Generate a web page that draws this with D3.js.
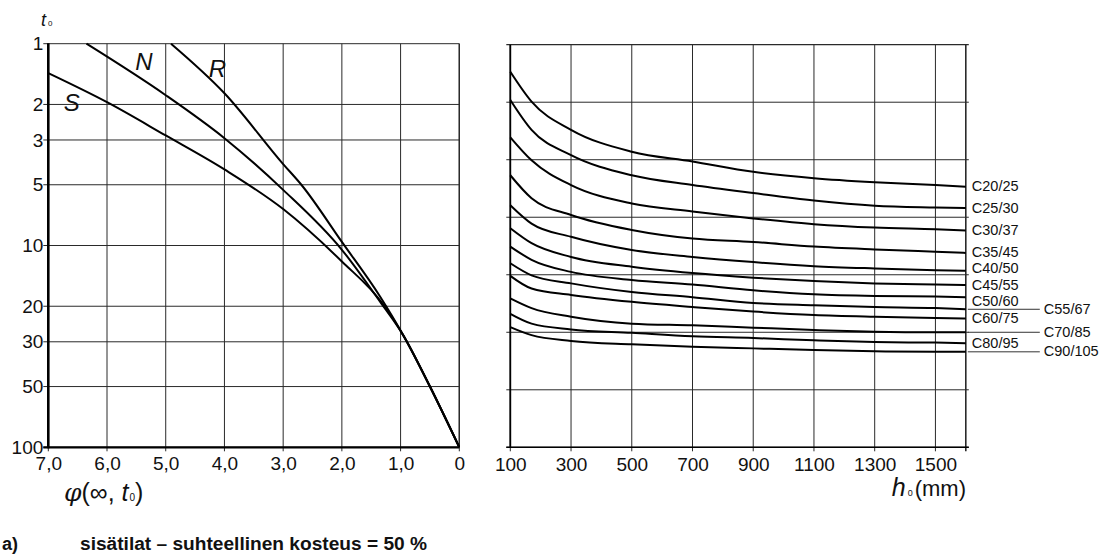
<!DOCTYPE html>
<html>
<head>
<meta charset="utf-8">
<script src="https://cdn.jsdelivr.net/npm/d3@7"></script>
<style>
  html, body { margin: 0; padding: 0; background: #fff; }
  text { font-family: "Liberation Sans", Arial, Helvetica, sans-serif; fill: #111; }
</style>
</head>
<body>
<script>
// ---------------- DATA ----------------
// Left panel: creep coefficient phi(inf,t0) vs age at loading t0 (log scale)
const phiTicks = [7, 6, 5, 4, 3, 2, 1, 0];
const phiTickLabels = ["7,0", "6,0", "5,0", "4,0", "3,0", "2,0", "1,0", "0"];
const t0Ticks = [1, 2, 3, 5, 10, 20, 30, 50, 100];

const cementNames = ["S", "N", "R"];
const phiS = [7.0, 6.0, 5.0, 4.0, 3.0, 2.0, 1.3, 0.95, 0.5, 0];
const t0S  = [1.40, 1.95, 2.85, 4.2, 6.6, 12.0, 19.5, 28, 50, 100];
const phiN = [6.35, 5.0, 4.0, 3.0, 2.0, 1.35, 0.95, 0.5, 0];
const t0N  = [1.0, 1.80, 2.94, 5.3, 10.5, 19.0, 28, 50, 100];
const phiR = [4.91, 4.0, 3.0, 2.69, 2.0, 1.35, 0.95, 0.5, 0];
const t0R  = [1.0, 1.76, 3.95, 5.0, 9.6, 17.9, 28, 50, 100];
// label anchor points (phi, t0) for S, N, R
const cementLabelPhi = [6.6, 5.37, 4.12];
const cementLabelT0  = [1.96, 1.23, 1.32];

// Right panel: notional size h0 (mm) vs nomogram ordinate (unlabelled, 0 = top grid line)
const h0Ticks = [100, 300, 500, 700, 900, 1100, 1300, 1500];
const ordGrid = [0, 1, 2, 3, 4, 5, 6, 7];
const h0 = [100, 170, 300, 500, 700, 900, 1100, 1300, 1500, 1600];
const classNames = ["C20/25", "C25/30", "C30/37", "C35/45", "C40/50", "C45/55",
                    "C50/60", "C55/67", "C60/75", "C70/85", "C80/95", "C90/105"];
const c20 = [0.47, 0.99, 1.48, 1.86, 2.03, 2.21, 2.32, 2.39, 2.44, 2.47];
const c25 = [0.96, 1.48, 1.92, 2.27, 2.44, 2.58, 2.71, 2.80, 2.83, 2.84];
const c30 = [1.61, 2.01, 2.44, 2.76, 2.90, 3.02, 3.12, 3.18, 3.21, 3.23];
const c35 = [2.27, 2.67, 2.96, 3.22, 3.37, 3.43, 3.51, 3.56, 3.60, 3.62];
const c40 = [2.79, 3.11, 3.34, 3.57, 3.69, 3.78, 3.85, 3.89, 3.92, 3.93];
const c45 = [3.19, 3.45, 3.69, 3.86, 3.97, 4.05, 4.11, 4.15, 4.17, 4.18];
const c50 = [3.51, 3.74, 3.95, 4.09, 4.17, 4.27, 4.34, 4.37, 4.38, 4.39];
const c55 = [3.80, 4.01, 4.15, 4.30, 4.39, 4.49, 4.53, 4.56, 4.58, 4.60];
const c60 = [4.02, 4.24, 4.35, 4.47, 4.56, 4.64, 4.70, 4.73, 4.75, 4.76];
const c70 = [4.41, 4.58, 4.73, 4.85, 4.88, 4.92, 4.96, 4.99, 5.00, 5.00];
const c80 = [4.68, 4.85, 4.95, 5.01, 5.07, 5.10, 5.14, 5.17, 5.18, 5.19];
const c90 = [4.91, 5.05, 5.15, 5.21, 5.25, 5.28, 5.31, 5.33, 5.34, 5.34];
const classValues = [c20, c25, c30, c35, c40, c45, c50, c55, c60, c70, c80, c90];
// labels placed in the outer column with a leader line
const outerLabels = ["C55/67", "C70/85", "C90/105"];

const caption = "sisätilat – suhteellinen kosteus = 50 %";
const captionTag = "a)";

// ---------------- DRAW ----------------
const W = 1112, H = 558;
const svg = d3.select("body").append("svg").attr("width", W).attr("height", H);

const xL = d3.scaleLinear().domain([7, 0]).range([48.3, 459.3]);
const yL = d3.scaleLog().domain([1, 100]).range([43.7, 447.3]);
const xR = d3.scaleLinear().domain([100, 1600]).range([510.3, 965.8]);
const yR = d3.scaleLinear().domain([0, 7]).range([44.7, 447.3]);

const gridColor = "#2a2a2a";
const tickFont = 19;

// ---- Left panel grid ----
const gl = svg.append("g");
gl.selectAll("line.hg").data(t0Ticks).join("line")
  .attr("x1", xL(7) - 5).attr("x2", xL(0))
  .attr("y1", d => yL(d)).attr("y2", d => yL(d))
  .attr("stroke", gridColor).attr("stroke-width", 1);
gl.selectAll("line.vg").data(phiTicks).join("line")
  .attr("x1", d => xL(d)).attr("x2", d => xL(d))
  .attr("y1", yL(1)).attr("y2", yL(100) + 4)
  .attr("stroke", gridColor).attr("stroke-width", 1);
// axes (thicker)
gl.append("line").attr("x1", xL(7)).attr("x2", xL(7)).attr("y1", yL(1) - 0.5).attr("y2", yL(100) + 1)
  .attr("stroke", "#000").attr("stroke-width", 2.6);
gl.append("line").attr("x1", xL(7) - 5).attr("x2", xL(0)).attr("y1", yL(100)).attr("y2", yL(100))
  .attr("stroke", "#000").attr("stroke-width", 2.2);
gl.append("line").attr("x1", xL(0)).attr("x2", xL(0)).attr("y1", yL(1)).attr("y2", yL(100))
  .attr("stroke", gridColor).attr("stroke-width", 1.4);

// tick labels via d3 axes
const axL = gl.append("g").attr("transform", `translate(${xL(7)},0)`)
  .call(d3.axisLeft(yL).tickValues(t0Ticks).tickFormat(d3.format("d")).tickSize(0).tickPadding(5));
axL.select(".domain").remove();
axL.selectAll("text").attr("font-size", tickFont).attr("fill", "#111");
const axB = gl.append("g").attr("transform", `translate(0,${yL(100)})`)
  .call(d3.axisBottom(xL).tickValues(phiTicks).tickFormat((d, i) => phiTickLabels[i]).tickSize(0).tickPadding(9));
axB.select(".domain").remove();
axB.selectAll("text").attr("font-size", tickFont).attr("fill", "#111");

// curves
const lineL = d3.line().x(d => xL(d[0])).y(d => yL(d[1])).curve(d3.curveMonotoneX);
const leftSeries = [d3.zip(phiS, t0S), d3.zip(phiN, t0N), d3.zip(phiR, t0R)];
gl.selectAll("path.cem").data(leftSeries).join("path")
  .attr("d", lineL).attr("fill", "none").attr("stroke", "#000").attr("stroke-width", 2);
gl.selectAll("text.cl").data(cementNames).join("text")
  .attr("x", (d, i) => xL(cementLabelPhi[i])).attr("y", (d, i) => yL(cementLabelT0[i]))
  .attr("text-anchor", "middle").attr("dominant-baseline", "central")
  .attr("font-size", 24).attr("font-style", "italic").text(d => d);

// axis titles (left)
const tT = svg.append("text").attr("x", 41).attr("y", 26).attr("font-size", 18);
tT.append("tspan").attr("font-style", "italic").text("t");
tT.append("tspan").attr("font-size", 8).attr("dx", 2).text("0");

const phiT = svg.append("text").attr("x", 64).attr("y", 501).attr("font-size", 25);
phiT.append("tspan").attr("font-family", "DejaVu Serif, serif").attr("font-style", "italic").attr("font-size", 25).text("φ");
phiT.append("tspan").text("(∞, ");
phiT.append("tspan").attr("font-style", "italic").text("t");
phiT.append("tspan").attr("font-size", 10).attr("dx", 1).text("0");
phiT.append("tspan").text(")");

// ---- Right panel grid ----
const gr = svg.append("g");
gr.selectAll("line.hg").data(ordGrid).join("line")
  .attr("x1", xR(100) - 4).attr("x2", xR(1600) + 3)
  .attr("y1", d => yR(d)).attr("y2", d => yR(d))
  .attr("stroke", gridColor).attr("stroke-width", d => d === 0 ? 1.3 : 1);
gr.selectAll("line.vg").data(h0Ticks).join("line")
  .attr("x1", d => xR(d)).attr("x2", d => xR(d))
  .attr("y1", yR(0)).attr("y2", yR(7) + 4)
  .attr("stroke", gridColor).attr("stroke-width", 1);
gr.append("line").attr("x1", xR(100)).attr("x2", xR(100)).attr("y1", yR(0)).attr("y2", yR(7))
  .attr("stroke", "#000").attr("stroke-width", 1.8);
gr.append("line").attr("x1", xR(1600)).attr("x2", xR(1600)).attr("y1", yR(0)).attr("y2", yR(7) + 4)
  .attr("stroke", gridColor).attr("stroke-width", 1.6);
gr.append("line").attr("x1", xR(100) - 4).attr("x2", xR(1600) + 3).attr("y1", yR(7)).attr("y2", yR(7))
  .attr("stroke", "#000").attr("stroke-width", 1.6);

const axR = gr.append("g").attr("transform", `translate(0,${yR(7)})`)
  .call(d3.axisBottom(xR).tickValues(h0Ticks).tickFormat(d3.format("d")).tickSize(0).tickPadding(10));
axR.select(".domain").remove();
axR.selectAll("text").attr("font-size", tickFont).attr("fill", "#111");

const lineR = d3.line().x(d => xR(d[0])).y(d => yR(d[1])).curve(d3.curveMonotoneX);
gr.selectAll("path.cls").data(classValues).join("path")
  .attr("d", v => lineR(d3.zip(h0, v))).attr("fill", "none")
  .attr("stroke", "#000").attr("stroke-width", 2);

// class labels (small nudges keep crowded labels readable)
const labelNudge = { "C40/50": -2, "C50/60": 4.5 };
const lab = classNames.map((n, i) => ({ n, v: classValues[i][classValues[i].length - 1], outer: outerLabels.includes(n) }));
gr.selectAll("line.leader").data(lab.filter(d => d.outer)).join("line")
  .attr("x1", xR(1600) + 2).attr("x2", xR(1600) + 74)
  .attr("y1", d => yR(d.v)).attr("y2", d => yR(d.v))
  .attr("stroke", "#333").attr("stroke-width", 1);
gr.selectAll("text.cn").data(lab).join("text")
  .attr("x", d => d.outer ? xR(1600) + 78 : xR(1600) + 6)
  .attr("y", d => yR(d.v) + 4.5 + (labelNudge[d.n] || 0))
  .attr("font-size", 14.5).text(d => d.n);

// axis title (right)
const hT = svg.append("text").attr("x", 966).attr("y", 496).attr("font-size", 22).attr("text-anchor", "end");
hT.append("tspan").attr("font-style", "italic").attr("font-size", 25).text("h");
hT.append("tspan").attr("font-size", 9).attr("dx", 2).text("0");
hT.append("tspan").attr("dx", 2).text("(mm)");

// caption
svg.append("text").attr("x", 2).attr("y", 550).attr("font-family", "Roboto, sans-serif")
  .attr("font-weight", "bold").attr("font-size", 18).text(captionTag);
svg.append("text").attr("x", 80).attr("y", 550).attr("font-family", "Roboto, sans-serif")
  .attr("font-weight", "bold").attr("font-size", 18)
  .attr("textLength", 347).attr("lengthAdjust", "spacingAndGlyphs").text(caption);
</script>
</body>
</html>
